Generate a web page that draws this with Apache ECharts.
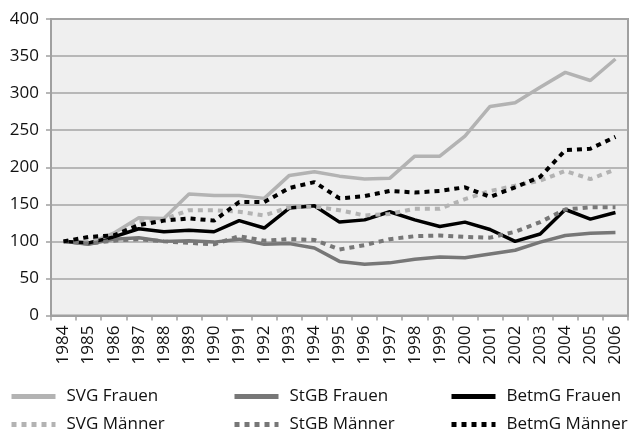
<!DOCTYPE html>
<html><head><meta charset="utf-8">
<script src="https://cdn.jsdelivr.net/npm/echarts@6/dist/echarts.min.js"></script>
<style>html,body{margin:0;padding:0;background:#fff}#c{width:629px;height:434px}</style>
</head><body><div id="c"></div>
<script>
var years = ['1984','1985','1986','1987','1988','1989','1990','1991','1992','1993','1994','1995','1996','1997','1998','1999','2000','2001','2002','2003','2004','2005','2006'];
var yTicks = [0,50,100,150,200,250,300,350,400];
var svgFrauen   = [100,97,111,132,131,164,162,162,158,189,194,188,184,185,215,215,242,282,287,308,328,317,346];
var stgbFrauen  = [100,96,103,105,100,101,99,103,96,97,91,73,69,71,76,79,78,83,88,99,108,111,112];
var betmgFrauen = [100,98,106,117,113,115,113,128,118,145,148,126,129,140,129,120,126,116,100,110,143,130,139];
var svgMaenner  = [100,100,110,127,130,142,142,140,135,146,147,142,135,137,144,144,157,168,175,182,195,184,197];
var stgbMaenner = [100,97,101,103,100,98,96,107,101,103,102,89,95,103,107,108,106,105,113,126,143,146,146];
var betmgMaenner= [100,106,108,122,128,131,128,153,153,172,180,158,161,168,166,168,173,160,173,187,223,225,241];
var names = ['SVG Frauen','StGB Frauen','BetmG Frauen','SVG Männer','StGB Männer','BetmG Männer'];

var FONT = '"Open Sans", sans-serif';
var cols = ['#b3b3b3','#777777','#000000','#b3b3b3','#777777','#000000'];
var datas = [svgFrauen, stgbFrauen, betmgFrauen, svgMaenner, stgbMaenner, betmgMaenner];
var series = datas.map(function(d,i){
  var dotted = i >= 3;
  return {
    name: names[i], type: 'line', data: d, symbol: 'none', showSymbol: false, z: 2 + i,
    lineStyle: {color: cols[i], width: dotted ? 4 : 3.5, type: dotted ? [5,5] : 'solid', cap: 'butt'},
    itemStyle: {color: cols[i]}
  };
});
var legendX = [9, 232, 449];
var legendY = [388, 416];
var legends = names.map(function(n,i){
  var dotted = i >= 3;
  return {
    data: [n], left: legendX[i % 3], top: legendY[Math.floor(i / 3)],
    itemWidth: 44, itemHeight: 18, padding: 0,
    itemStyle: {opacity: 0, borderWidth: 0, color: 'rgba(0,0,0,0)', borderColor: 'rgba(0,0,0,0)'},
    lineStyle: {width: 5, color: cols[i], type: dotted ? [5,5] : 'solid', cap: 'butt', opacity: 1},
    textStyle: {fontFamily: FONT, fontSize: 17, color: '#111111', padding: [0,0,0,6]}
  };
});
var chart = echarts.init(document.getElementById('c'), null, {renderer: 'canvas'});
chart.setOption({
  animation: false,
  backgroundColor: '#ffffff',
  legend: legends,
  grid: {left: 51, right: 1, top: 19, bottom: 118.5, show: true, backgroundColor: '#efefef', borderColor: '#a0a0a0', borderWidth: 2},
  xAxis: {
    type: 'category', data: years, boundaryGap: true,
    axisLine: {lineStyle: {color: '#a0a0a0', width: 2}},
    axisTick: {show: true, length: 5, lineStyle: {color: '#a0a0a0', width: 1.5}},
    axisLabel: {rotate: 90, margin: 10, fontFamily: FONT, fontSize: 17, color: '#111111', interval: 0}
  },
  yAxis: {
    type: 'value', min: yTicks[0], max: yTicks[yTicks.length-1], interval: 50,
    axisLine: {show: true, lineStyle: {color: '#a0a0a0', width: 2}},
    axisTick: {show: true, length: 5, lineStyle: {color: '#a0a0a0', width: 1.5}},
    splitLine: {lineStyle: {color: '#a4a4a4', width: 1.5}},
    axisLabel: {margin: 12, fontFamily: FONT, fontSize: 17, color: '#111111'}
  },
  series: series
});
</script></body></html>
